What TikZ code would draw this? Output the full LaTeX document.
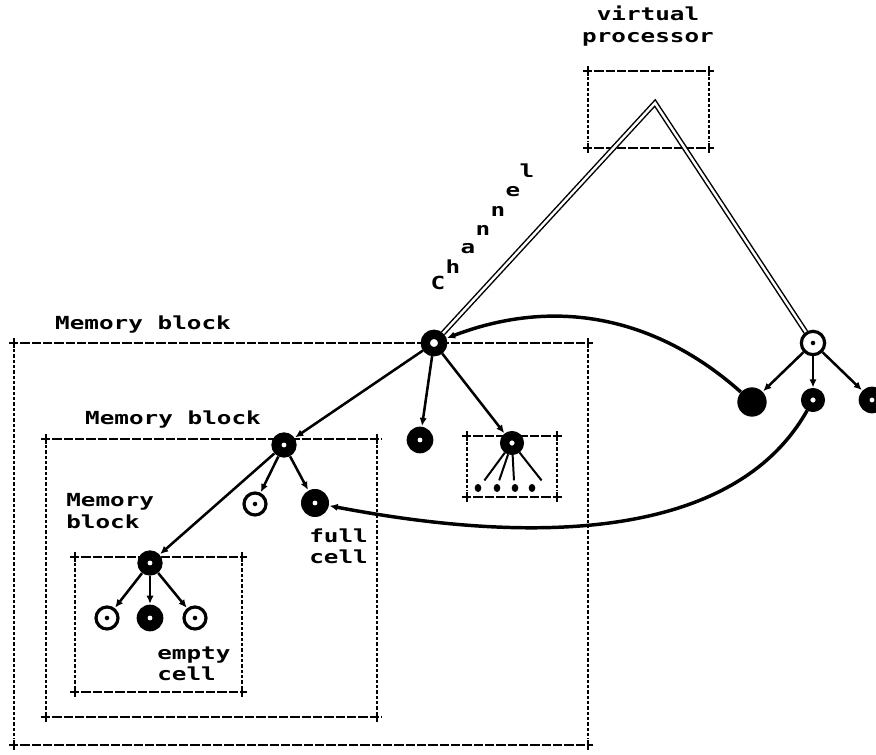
\documentclass[tikz,border=0pt]{standalone}
\usepackage{fontspec}
\newfontfamily\dotfont[FakeStretch=1.35]{DejaVu Sans Mono}
\usetikzlibrary{arrows.meta}
\usetikzlibrary{shapes.geometric}
\tikzset{>={Latex[length=6pt,width=5.5pt]}}
\tikzset{
    lbl/.style={font=\dotfont\bfseries\fontsize{13.5}{16}\selectfont, inner sep=0pt},
    edge/.style={line width=1.9pt, shorten >=0.5pt},
    curve/.style={line width=2.6pt, shorten >=0.5pt},
    chan/.style={double, double distance=1.8pt, line width=1.1pt},
    hdash/.style={line width=1.6pt, dash pattern=on 7pt off 1.5pt},
    vdot/.style={line width=1.5pt, dash pattern=on 2.5pt off 1.5pt},
    tick/.style={line width=1.6pt},
    cellhollow/.style={circle, draw, line width=2.4pt, fill=white, minimum size=16.5pt, inner sep=0pt},
    cellfull/.style={circle, fill=black, minimum size=20pt, inner sep=0pt},
    cellblack/.style={circle, fill=black, minimum size=22pt, inner sep=0pt},
    cellring/.style={circle, draw, line width=7pt, fill=white, minimum size=13pt, inner sep=0pt},
    celldot/.style={ellipse, fill=black, minimum width=5pt, minimum height=6pt, inner sep=0pt}
}
% dashed block with crosses at the corners
\newcommand{\memblock}[4]{%
    \draw[hdash](#1-5, #2)--(#3+5, #2);
    \draw[hdash](#1-5, #4)--(#3+5, #4);
    \draw[vdot](#1, #2+6)--(#1, #4-6);
    \draw[vdot](#3, #2+6)--(#3, #4-6);
    \foreach \xx in {#1, #3}{
        \draw[tick](\xx, #2-5)--(\xx, #2+5);
        \draw[tick](\xx, #4-5)--(\xx, #4+5);
    }
}

\begin{document}
\begin{tikzpicture}[x=0.75pt, y=-0.75pt]
    \useasboundingbox(0, 0)rectangle(876, 755);
    % blocks
    \memblock{588}{71}{709}{148}
    \memblock{14}{343}{588}{745}
    \memblock{46}{439}{377}{717}
    \memblock{75}{557}{242}{692}
    \memblock{467}{436}{557}{497}
    \node[lbl, align=center] (vp) at (648, 26){virtual\\processor};
    \node[lbl] (mb1) at (143, 325){Memory block};
    \node[lbl] (mb2) at (173, 420){Memory block};
    \node[lbl, align=left, anchor=west] (mb3) at (66, 511){Memory\\block};
    \node[lbl, align=left, anchor=west] (full) at (309, 546){full\\cell};
    \node[lbl, align=left, anchor=west] (empty) at (157, 664){empty\\cell};
    \foreach \l/\x/\y [count=\i] in {C/438/283, h/453/267, a/468/249, n/483/230, n/498/211, e/513/192, l/527/171}
        \node[lbl] (ch\i) at (\x, \y){\l};
    % cells
    \coordinate (apex) at (655, 103);
    \node[cellring] (root) at (434, 343){};
    \node[cellhollow, minimum size=17.5pt] (vr) at (813, 343){};
    \node[cellblack] (r1) at (752, 402){};
    \node[cellring, minimum size=11pt] (r2) at (813, 400){};
    \node[cellfull] (r3) at (872, 400){};
    \node[cellfull] (a1) at (420, 440){};
    \node[cellring, minimum size=11pt] (a2) at (512, 443){};
    \node[cellfull, minimum size=19pt] (mid) at (284, 445){};
    \node[cellhollow] (m1) at (255, 504){};
    \node[cellfull, minimum size=21pt] (m2) at (315, 503){};
    \node[cellfull, minimum size=19pt] (inn) at (150, 563){};
    \node[cellhollow] (i1) at (107, 618){};
    \node[cellfull] (i2) at (150, 618){};
    \node[cellhollow] (i3) at (195, 618){};
    \foreach \n in {vr, m1, i1, i3}
        \fill (\n) circle (1.7pt);
    \foreach \n in {r3, a1, mid, m2, inn, i2}
        \fill[white] (\n) circle (1.8pt);
    \foreach \x [count=\i] in {478, 497, 515, 532}
        \node[celldot] (d\i) at (\x, 488){};
    % channel
    \draw[chan](root)--(apex)--(vr);
    % tree edges
    \draw[edge, ->](vr)--(r1);
    \draw[edge, ->](vr)--(r2);
    \draw[edge, ->](vr)--(r3);
    \draw[edge, ->](root)--(mid);
    \draw[edge, ->](root)--(a1);
    \draw[edge, ->](root)--(a2);
    \draw[edge, ->](mid)--(inn);
    \draw[edge, ->](mid)--(m1);
    \draw[edge, ->](mid)--(m2);
    \draw[edge, ->](inn)--(i1);
    \draw[edge, ->](inn)--(i2);
    \draw[edge, ->](inn)--(i3);
    \foreach \i/\x in {1/484, 2/499, 3/514, 4/542}
        \draw[edge, line width=1.5pt](a2)--(\x, 481);
    % references
    \draw[curve, ->](r1) .. controls (660, 320) and (560, 295) .. (root);
    \draw[curve, ->](r2) .. controls (740, 530) and (560, 550) .. (m2);
\end{tikzpicture}
\end{document}
